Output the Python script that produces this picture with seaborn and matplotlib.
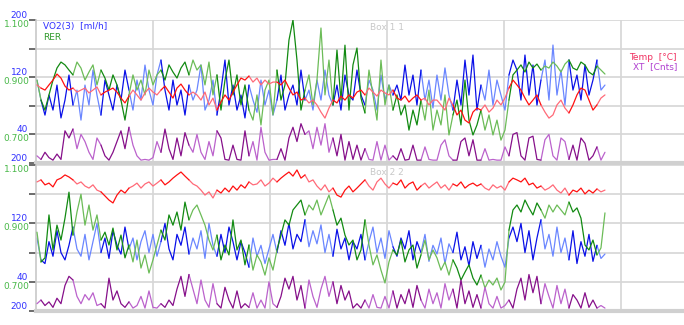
import numpy as np
import pandas as pd
import matplotlib
matplotlib.use("Agg")
import matplotlib.pyplot as plt
import seaborn as sns

# ---------------- data ----------------
n_samples = 143
sample_hours = 0.8205          # sampling interval (h)
start_hour = 0.2
phase_hours = 6.0              # light / dark shading phase length
phase_offset = 0.9

vo2_ticks_top = ["200", "40", "", "120", "", "200"]      # at 0,40,80,120,160,200
vo2_ticks_bottom = ["200", "40", "", "120", "", ""]
rer_ticks = ["0.700", "0.900", "1.100"]

box1_vo2 = [116,88,67,95,74,109,63,88,123,81,
            102,60,109,81,130,95,67,116,95,74,
            109,88,130,102,74,116,88,137,102,81,
            123,144,102,74,116,81,102,67,109,88,
            102,137,74,88,116,67,102,144,81,109,
            74,95,63,109,88,71,116,81,102,67,
            88,123,74,95,109,81,130,88,102,74,
            116,88,130,95,81,109,74,123,95,88,
            130,95,81,116,102,74,123,88,109,95,
            109,88,137,95,123,81,130,88,116,77,
            123,88,133,95,74,116,81,144,95,151,
            74,109,88,130,81,116,95,74,123,144,
            130,88,151,95,137,81,116,144,88,165,
            95,130,81,144,102,123,88,137,95,116,144,102,109]
box1_rer = [0.89,0.82,0.785,0.838,0.89,0.932,0.953,0.943,0.925,0.908,
            0.953,0.932,0.89,0.918,0.943,0.873,0.925,0.897,0.855,0.908,
            0.873,0.82,0.75,0.838,0.908,0.855,0.89,0.838,0.925,0.873,
            0.908,0.925,0.89,0.943,0.918,0.897,0.932,0.953,0.908,0.96,
            0.925,0.943,0.873,0.953,0.838,0.908,0.785,0.89,0.96,0.838,
            0.908,0.803,0.873,0.785,0.75,0.838,0.733,0.855,0.89,0.768,
            0.925,0.82,0.873,1.03,1.1,0.96,0.785,0.855,0.908,0.803,
            0.89,1.072,0.838,0.96,0.803,0.995,0.82,1.012,0.785,0.943,
            1.002,0.827,0.775,0.925,0.838,0.75,0.96,0.803,0.873,0.785,
            0.838,0.768,0.803,0.715,0.785,0.733,0.82,0.75,0.855,0.715,
            0.785,0.733,0.838,0.698,0.768,0.82,0.733,0.89,0.75,0.698,
            0.733,0.785,0.715,0.768,0.698,0.75,0.68,0.715,0.82,0.908,
            0.925,0.943,0.918,0.953,0.932,0.946,0.925,0.939,0.932,0.953,
            0.939,0.918,0.946,0.96,0.932,0.925,0.953,0.943,0.918,0.908,0.939,0.925,0.911]
box1_temp = [36.73,36.62,36.55,36.73,36.9,37.11,36.97,36.69,36.55,36.62,
             36.48,36.55,36.62,36.45,36.55,36.66,36.38,36.48,36.55,36.62,
             36.48,36.27,36.1,36.34,36.55,36.38,36.2,36.45,36.62,36.48,
             36.38,36.55,36.69,36.48,36.27,36.62,36.76,36.55,36.38,36.48,
             36.38,36.2,36.48,36.03,36.27,35.85,36.13,36.38,36.2,36.48,
             36.73,36.97,36.9,37.04,36.83,36.97,36.73,36.9,36.76,36.83,
             36.83,36.73,36.9,36.62,36.38,36.48,36.2,36.27,36.1,36.2,
             36.03,35.78,35.57,35.92,36.2,36.1,36.34,36.2,36.38,36.27,
             36.48,36.55,36.38,36.62,36.48,36.34,36.55,36.45,36.38,36.55,
             36.27,36.2,36.34,36.13,36.27,36.38,36.2,36.27,36.03,36.2,
             36.2,36.03,35.85,36.27,36.03,35.68,35.85,35.5,35.4,35.78,
             35.92,35.85,36.03,35.78,35.92,36.2,36.03,36.27,36.62,36.9,
             36.73,36.55,36.27,36.03,36.2,36.38,36.03,35.78,35.57,35.68,
             36.03,36.2,35.92,35.75,36.03,36.38,36.62,36.55,36.2,35.85,36.03,36.27,36.38]
box1_xt = [20,10,30,15,8,25,10,90,70,95,
           40,80,60,30,10,70,50,20,8,30,
           60,90,40,100,50,20,8,10,8,15,
           60,30,95,40,10,70,20,85,50,30,
           80,30,10,60,20,90,70,10,8,50,
           10,8,90,20,60,8,100,30,8,10,
           10,40,8,70,100,60,110,80,90,40,
           100,50,110,30,70,20,80,8,60,10,
           50,8,40,10,8,60,8,50,8,20,
           8,40,8,10,50,8,8,45,10,8,
           8,50,65,20,8,8,60,70,20,65,
           8,8,40,8,10,8,8,45,20,80,
           85,20,8,70,75,10,8,65,80,20,
           8,70,60,10,50,8,70,55,8,20,45,8,30]

box2_vo2 = [100,70,65,95,75,110,80,70,90,115,
            85,75,105,70,95,120,80,100,72,110,
            90,78,115,85,100,70,95,110,80,105,
            75,95,120,85,70,105,90,115,78,100,
            85,110,72,120,90,75,105,80,115,95,
            70,95,80,60,100,75,90,65,85,105,
            80,110,90,120,85,105,95,125,88,110,
            92,118,80,105,75,112,85,100,70,95,
            85,105,70,95,115,80,100,72,110,88,
            75,100,85,110,70,95,80,105,68,90,
            78,100,65,92,80,108,70,88,62,95,
            72,90,60,85,70,95,75,60,100,115,
            95,120,80,110,70,100,125,85,105,75,
            115,80,100,70,110,65,95,75,105,68,90,72,78]
box2_rer = [0.87,0.768,0.782,0.929,0.809,0.894,0.843,0.918,1.007,0.860,
            0.939,1.0,0.894,0.963,0.877,0.929,0.843,0.870,0.826,0.884,
            0.809,0.860,0.782,0.826,0.768,0.843,0.747,0.792,0.730,0.775,
            0.826,0.877,0.843,0.929,0.894,0.939,0.877,0.973,0.912,0.946,
            0.963,0.929,0.894,0.843,0.809,0.860,0.775,0.826,0.792,0.912,
            0.809,0.843,0.758,0.826,0.740,0.792,0.768,0.723,0.782,0.740,
            0.809,0.860,0.912,0.894,0.946,0.963,0.980,0.929,0.963,0.946,
            0.980,0.929,0.963,0.997,0.946,0.894,0.918,0.860,0.826,0.843,
            0.775,0.809,0.912,0.826,0.758,0.792,0.740,0.696,0.768,0.809,
            0.792,0.843,0.768,0.809,0.826,0.747,0.792,0.843,0.775,0.809,
            0.782,0.740,0.768,0.723,0.775,0.747,0.706,0.733,0.758,0.713,
            0.689,0.723,0.679,0.706,0.689,0.713,0.672,0.699,0.877,0.946,
            0.963,0.939,0.980,0.953,0.929,0.970,0.946,0.918,0.963,0.939,
            0.963,0.946,0.929,0.973,0.939,0.953,0.918,0.826,0.809,0.843,0.792,0.816,0.936]
box2_temp = [38.42,38.49,38.32,38.38,38.25,38.49,38.55,38.66,38.59,38.49,
             38.35,38.42,38.28,38.21,38.32,38.14,38.08,37.94,37.80,37.70,
             37.97,38.14,38.04,38.21,38.28,38.38,38.21,38.35,38.42,38.28,
             38.38,38.49,38.32,38.42,38.55,38.66,38.76,38.62,38.49,38.35,
             38.28,38.14,37.97,38.08,37.87,38.14,38.04,38.21,38.08,38.28,
             38.14,38.32,38.21,38.42,38.32,38.35,38.49,38.28,38.38,38.55,
             38.42,38.55,38.66,38.76,38.62,38.83,38.55,38.66,38.42,38.49,
             38.28,38.14,38.32,38.08,38.21,37.97,37.90,38.14,38.28,38.08,
             38.21,38.35,38.49,38.28,38.14,38.42,38.55,38.35,38.21,38.38,
             38.32,38.49,38.21,38.35,38.42,38.14,38.28,38.38,38.21,38.32,
             38.42,38.21,38.32,38.14,38.35,38.28,38.42,38.21,38.32,38.38,
             38.28,38.35,38.21,38.14,38.32,38.21,38.28,38.14,38.42,38.55,
             38.49,38.42,38.55,38.32,38.38,38.21,38.28,38.14,38.21,38.32,
             38.14,38.04,38.21,37.97,38.14,38.08,38.21,38.01,38.14,38.04,38.18,38.08,38.14]
box2_xt = [20,30,15,25,10,35,20,70,95,85,
           40,20,45,30,50,15,20,8,90,30,
           55,20,10,25,8,15,40,8,55,10,
           8,20,10,30,15,60,95,40,100,60,
           20,85,30,10,75,20,8,65,30,8,
           55,8,20,10,50,8,30,8,80,20,
           10,40,90,60,95,30,70,8,85,40,
           10,60,95,40,80,20,70,30,55,8,
           20,8,30,8,45,10,8,40,8,55,
           8,45,20,60,10,70,30,8,60,20,
           50,8,75,30,60,8,85,20,55,10,
           45,8,65,20,8,40,8,15,30,8,
           60,90,30,100,50,95,20,75,40,8,
           70,20,60,8,45,30,8,50,10,30,8,15,8]

# ---------------- style ----------------
sns.set_style("white")
plt.rcParams['font.family'] = ['DejaVu Sans']

PAL = {
    "vo2": {"dark": "#0a10e8", "light": "#6a86ff"},
    "rer": {"dark": "#128a12", "light": "#6cbc58"},
    "temp": {"dark": "#ff1010", "light": "#ff6a78"},
    "xt": {"dark": "#86108a", "light": "#bb62cc"},
}
LBL_BLUE = "#3030ff"
LBL_GREEN = "#48b848"
GRID = "#d6d6d6"

W, H = 684, 325
fig = plt.figure(figsize=(W / 100, H / 100), dpi=100)
fig.patch.set_facecolor("white")

hours = start_hour + np.arange(n_samples) * sample_hours
x_max = 648 / 117 * 24
seg_id = np.floor((hours - phase_offset) / phase_hours).astype(int)


def shaded_frame(values):
    """Long-form frame: each shading segment also takes the first point of the
    next one so the line stays continuous."""
    rows = []
    for s in np.unique(seg_id):
        idx = np.where(seg_id == s)[0]
        if idx[-1] + 1 < n_samples:
            idx = np.append(idx, idx[-1] + 1)
        shade = "dark" if s % 2 == 0 else "light"
        for i in idx:
            rows.append((hours[i], values[i], s, shade))
    return pd.DataFrame(rows, columns=["h", "v", "seg", "shade"])


def draw(axis, values, key):
    df = shaded_frame(values)
    sns.lineplot(data=df, x="h", y="v", hue="shade", units="seg", estimator=None,
                 palette=PAL[key], ax=axis, lw=0.9, legend=False)
    axis.set_xlabel("")
    axis.set_ylabel("")


panels = [((20, 163), box1_vo2, box1_rer, box1_temp, box1_xt, "Box 1 1", vo2_ticks_top),
          ((165, 311), box2_vo2, box2_rer, box2_temp, box2_xt, "Box 2 2", vo2_ticks_bottom)]

for (top, bot), vo2, rer, temp, xt, name, vticks in panels:
    ax = fig.add_axes([36 / W, 1 - bot / H, (W - 36) / W, (bot - top) / H])
    draw(ax, vo2, "vo2")
    ax.set_xlim(0, x_max)
    ax.set_ylim(0, 200)
    ax.set_yticks([0, 40, 80, 120, 160, 200])
    ax.set_yticklabels(vticks)
    for lb in ax.get_yticklabels():
        lb.set_va("bottom")
    ax.set_xticks([24, 48, 72, 96, 120])
    ax.set_xticklabels([])
    ax.tick_params(axis="x", length=0)
    ax.tick_params(axis="y", length=5, width=1.3, color="#606060", pad=1,
                   labelsize=6.5, labelcolor=LBL_BLUE)
    ax.grid(True, color=GRID, lw=1.2)
    ax.set_axisbelow(True)
    for s in ["top", "right"]:
        ax.spines[s].set_visible(False)
    ax.spines["left"].set_color("#c8c8c8")
    ax.spines["left"].set_linewidth(1.2)
    ax.spines["bottom"].set_color("#d0d0d0")
    ax.spines["bottom"].set_linewidth(3)

    ax2 = ax.twinx()
    draw(ax2, rer, "rer")
    ax2.set_ylim(0.6, 1.1)
    ax2.yaxis.tick_left()
    ax2.set_yticks([0.7, 0.9, 1.1])
    ax2.set_yticklabels(rer_ticks)
    for lb in ax2.get_yticklabels():
        lb.set_va("top")
    ax2.tick_params(axis="y", length=0, pad=4.6, labelsize=6.5, labelcolor=LBL_GREEN)

    ax3 = ax.twinx()
    draw(ax3, temp, "temp")
    ax3.set_ylim(34, 39)
    ax3.set_yticks([])

    ax4 = ax.twinx()
    draw(ax4, xt, "xt")
    ax4.set_ylim(0, 400)
    ax4.set_yticks([])

    for a in (ax2, ax3, ax4):
        a.set_xlim(0, x_max)
        for s in a.spines.values():
            s.set_visible(False)

    fig.text(370 / W, 1 - (top + 8) / H, name, color="#c8c8c8", fontsize=6.5,
             va="center", ha="left")

fig.text(43 / W, 1 - 27 / H, "VO2(3)  [ml/h]", color=LBL_BLUE, fontsize=6.5, va="center")
fig.text(43 / W, 1 - 38 / H, "RER", color="#2f9a2a", fontsize=6.5, va="center")
fig.text(677 / W, 1 - 57 / H, "Temp  [°C]", color="#f03060", fontsize=6.5, va="center", ha="right")
fig.text(677 / W, 1 - 67 / H, "XT  [Cnts]", color="#b040d0", fontsize=6.5, va="center", ha="right")

fig.savefig("out.png", dpi=100, facecolor="white")
